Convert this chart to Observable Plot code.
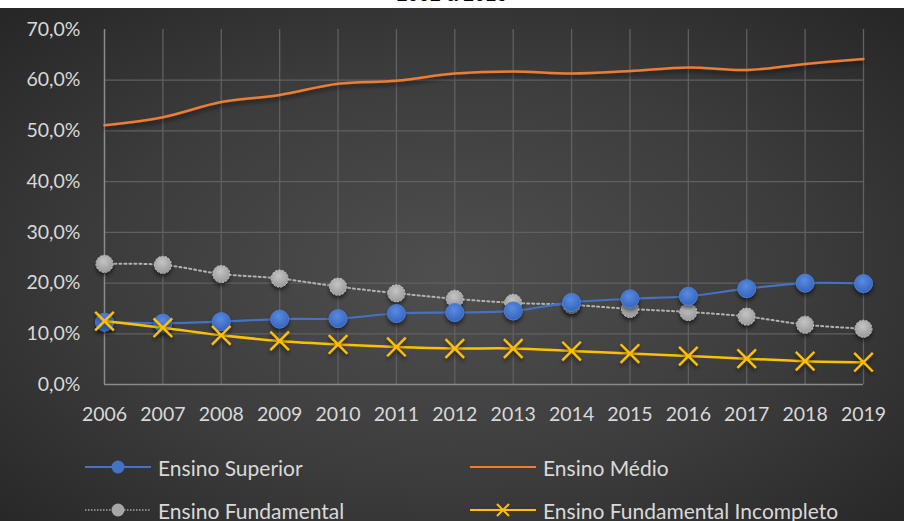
<!DOCTYPE html>
<html>
<head>
<meta charset="utf-8">
<script src="https://cdn.jsdelivr.net/npm/d3@7"></script>
<script src="https://cdn.jsdelivr.net/npm/@observablehq/plot@0.6"></script>
<style>
  html, body { margin: 0; padding: 0; background: #fff; }
  body { width: 904px; height: 521px; position: relative; overflow: hidden; font-family: Lato, "Open Sans", sans-serif; }
  #titlestrip { position: absolute; left: 0; top: 0; width: 904px; height: 8px; overflow: hidden; background: #fff; }
  #titlestrip div { position: absolute; left: 0; width: 904px; top: -17px; text-align: center; font: 20px "Liberation Sans", Arial, sans-serif; color: #000; }
  #chart { position: absolute; left: 0; top: 8px; width: 904px; height: 513px;
    background: radial-gradient(ellipse farthest-corner at 50% 52%, #4f4f4f 0%, #3c3c3c 55%, #262626 100%); }
  #chart svg.plot { position: absolute; left: 0; top: 0; }
  .leg { position: absolute; display: flex; align-items: center; color: #d9d9d9; font-size: 21px; font-family: Lato, sans-serif; }
  .leg svg { margin-right: 7px; }
</style>
</head>
<body>
<div id="titlestrip"><div>2002 a 2019</div></div>
<div id="chart"></div>
<script>
const years = [2006,2007,2008,2009,2010,2011,2012,2013,2014,2015,2016,2017,2018,2019];
const ensinoSuperior = [12.3,12.1,12.4,12.9,13.0,14.0,14.2,14.5,16.2,16.9,17.4,18.9,20.0,19.9];
const ensinoMedio = [51.1,52.7,55.7,57.1,59.3,59.9,61.3,61.7,61.3,61.8,62.5,62.0,63.2,64.2];
const ensinoFundamental = [23.8,23.6,21.8,20.9,19.3,18.0,16.9,16.1,15.7,14.9,14.3,13.4,11.8,11.0];
const ensinoFundIncompleto = [12.5,11.2,9.7,8.6,7.9,7.4,7.1,7.1,6.6,6.1,5.6,5.1,4.6,4.4];
const yTicks = [0,10,20,30,40,50,60,70];
const gridYValues = [10,20,30,40,50,60];
const seriesNames = ["Ensino Superior","Ensino Médio","Ensino Fundamental","Ensino Fundamental Incompleto"];

const toRows = (vals) => years.map((y, i) => ({year: y, value: vals[i]}));
const sup = toRows(ensinoSuperior);
const med = toRows(ensinoMedio);
const fun = toRows(ensinoFundamental);
const inc = toRows(ensinoFundIncompleto);

const fmt = d => d.toFixed(1).replace(".", ",") + "%";
const curve = "catmull-rom";

const chart = Plot.plot({
  width: 904,
  height: 425,
  marginLeft: 104,
  marginRight: 41,
  marginTop: 21,
  marginBottom: 49,
  style: {background: "transparent", color: "#d9d9d9", fontFamily: "Lato, sans-serif", fontSize: "19.5px", overflow: "visible"},
  x: {domain: [2006, 2019], label: null},
  y: {domain: [0, 70], label: null},
  marks: [
    Plot.gridY(gridYValues, {stroke: "#606060", strokeOpacity: 1, strokeWidth: 1.3}),
    Plot.gridX(years.slice(1), {stroke: "#606060", strokeOpacity: 1, strokeWidth: 1.3}),
    Plot.ruleX([2006], {stroke: "#8a8a8a", strokeWidth: 1.5}),
    Plot.ruleY([0], {stroke: "#8a8a8a", strokeWidth: 1.5}),
    Plot.axisX(years, {tickSize: 0, tickPadding: 23, tickFormat: d => String(d), fill: "#d9d9d9", fontSize: 19.5, label: null}),
    Plot.axisY(yTicks, {tickSize: 0, tickPadding: 24, tickFormat: fmt, fill: "#d9d9d9", fontSize: 19.5, label: null}),
    Plot.line(med, {x: "year", y: "value", stroke: "#ed7d31", strokeWidth: 2.5, curve}),
    Plot.line(fun, {x: "year", y: "value", stroke: "#b3b3b3", strokeWidth: 2, strokeDasharray: "2,3", curve}),
    Plot.dot(fun, {x: "year", y: "value", r: 8.5, fill: "url(#grayGrad)", stroke: "#c8c8c8", strokeWidth: 1, strokeDasharray: "2,1.5"}),
    Plot.line(sup, {x: "year", y: "value", stroke: "#4472c4", strokeWidth: 2.2, curve}),
    Plot.dot(sup, {x: "year", y: "value", r: 9, fill: "url(#blueGrad)", stroke: "#4a7bd4", strokeWidth: 1}),
    Plot.line(inc, {x: "year", y: "value", stroke: "#ffc000", strokeWidth: 2.5, curve}),
    Plot.dot(inc, {x: "year", y: "value", r: 8.5, symbol: "times", stroke: "#ffc000", strokeWidth: 2.4, fill: "none"})
  ]
});

const svg = d3.select(chart);
const defs = svg.insert("defs", ":first-child");
const bg = defs.append("radialGradient").attr("id", "blueGrad").attr("cx", "45%").attr("cy", "35%").attr("r", "65%");
bg.append("stop").attr("offset", "0%").attr("stop-color", "#5a8be0");
bg.append("stop").attr("offset", "100%").attr("stop-color", "#3565bd");
const gg = defs.append("radialGradient").attr("id", "grayGrad").attr("cx", "45%").attr("cy", "35%").attr("r", "65%");
gg.append("stop").attr("offset", "0%").attr("stop-color", "#c4c4c4");
gg.append("stop").attr("offset", "100%").attr("stop-color", "#9a9a9a");
const f = defs.append("filter").attr("id", "shadow").attr("filterUnits", "userSpaceOnUse")
  .attr("x", 0).attr("y", 0).attr("width", 904).attr("height", 425);
f.append("feDropShadow").attr("dx", 0).attr("dy", 3).attr("stdDeviation", 2).attr("flood-color", "#000").attr("flood-opacity", 0.55);
svg.selectAll('g[aria-label="dot"]').attr("filter", "url(#shadow)");
svg.select('g[aria-label="line"]').attr("filter", "url(#shadow)");

document.getElementById("chart").appendChild(chart);

// Legend
const legendItems = [
  {name: seriesNames[0], color: "#4472c4", dash: null, marker: "circle", mfill: "#4472c4", left: 85, top: 459},
  {name: seriesNames[1], color: "#ed7d31", dash: null, marker: null, left: 470, top: 459},
  {name: seriesNames[2], color: "#a6a6a6", dash: "1.5,1.5", marker: "circle", mfill: "#a6a6a6", left: 85, top: 502},
  {name: seriesNames[3], color: "#ffc000", dash: null, marker: "times", left: 470, top: 502}
];
const chartDiv = document.getElementById("chart");
for (const it of legendItems) {
  const d = document.createElement("div");
  d.className = "leg";
  d.style.left = it.left + "px";
  d.style.top = (it.top - 12) + "px";
  d.style.height = "24px";
  const s = d3.create("svg").attr("width", 66).attr("height", 20);
  s.append("line").attr("x1", 0).attr("x2", 66).attr("y1", 10).attr("y2", 10)
    .attr("stroke", it.color).attr("stroke-width", it.dash ? 1.5 : 2).attr("stroke-dasharray", it.dash);
  if (it.marker === "circle") {
    s.append("circle").attr("cx", 33).attr("cy", 10).attr("r", 6.5).attr("fill", it.mfill);
  } else if (it.marker === "times") {
    s.append("path").attr("d", "M27,4L39,16M39,4L27,16").attr("stroke", it.color).attr("stroke-width", 2);
  }
  d.appendChild(s.node());
  const t = document.createElement("span");
  t.textContent = it.name;
  d.appendChild(t);
  chartDiv.appendChild(d);
}
</script>
</body>
</html>
